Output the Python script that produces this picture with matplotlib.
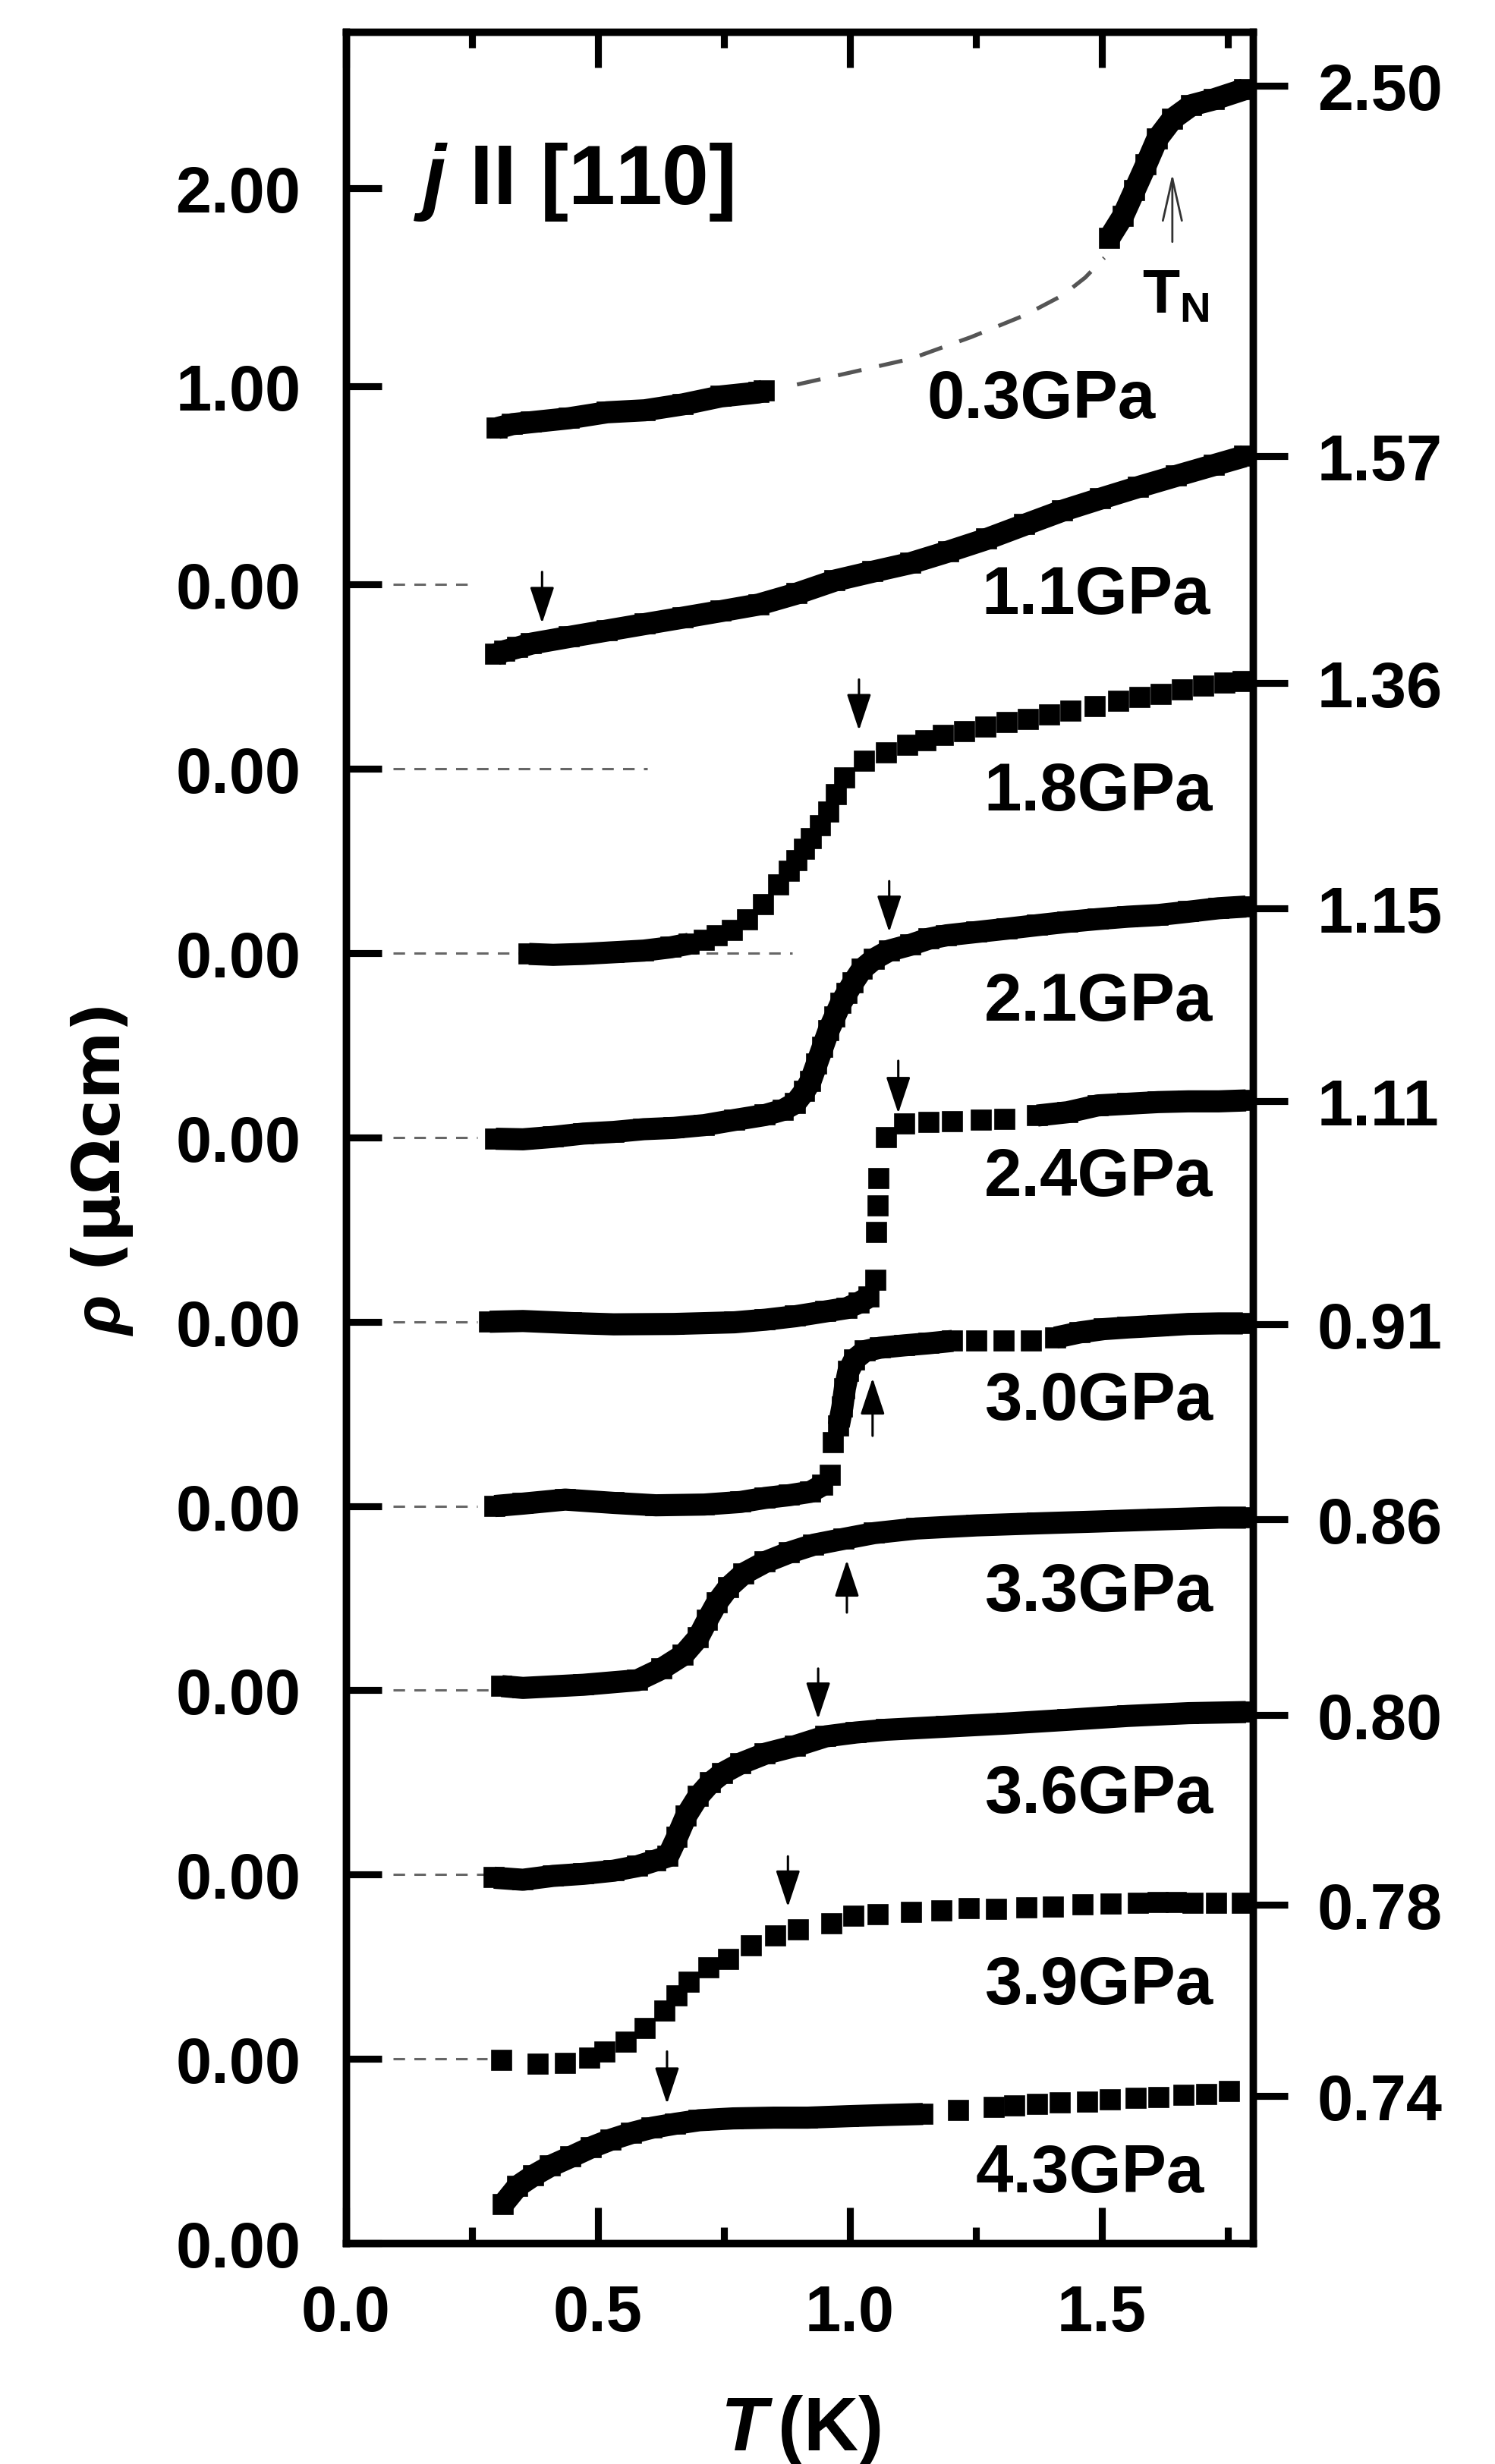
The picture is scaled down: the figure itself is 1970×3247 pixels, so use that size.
import matplotlib
matplotlib.use('Agg')
import matplotlib.pyplot as plt
import numpy as np

plt.rcParams['font.family'] = ['Liberation Sans', 'DejaVu Sans']
plt.rcParams['font.weight'] = 'bold'
plt.rcParams['mathtext.fontset'] = 'custom'
plt.rcParams['mathtext.rm'] = 'Liberation Sans:bold'
plt.rcParams['mathtext.it'] = 'Liberation Sans:italic:bold'
plt.rcParams['mathtext.bf'] = 'Liberation Sans:bold'

# ---- data (T in K, curves in stacked panel units above their offset) ----
# 0.3 GPa is drawn in uOhm cm with its own scale
s03 = 1.075
T03a = [0.300, 0.330, 0.368, 0.443, 0.518, 0.593, 0.669, 0.744, 0.819, 0.830]
r03a = [0.79, 0.81, 0.82, 0.84, 0.87, 0.88, 0.91, 0.95, 0.97, 0.98]
T03b = [1.515, 1.542, 1.565, 1.588, 1.610, 1.640, 1.678, 1.723, 1.783]
r03b = [1.75, 1.86, 1.99, 2.12, 2.25, 2.35, 2.42, 2.45, 2.50]
T03d = [0.895, 1.000, 1.121, 1.241, 1.347, 1.422, 1.467, 1.505]
r03d = [1.01, 1.07, 1.14, 1.25, 1.36, 1.46, 1.55, 1.65]

T11 = [0.297, 0.315, 0.340, 0.368, 0.443, 0.518, 0.593, 0.669, 0.744, 0.819, 0.895, 0.970,
       1.045, 1.121, 1.196, 1.271, 1.347, 1.422, 1.497, 1.573, 1.648, 1.723, 1.783]
r11 = [0.621, 0.640, 0.658, 0.680, 0.716, 0.751, 0.786, 0.821, 0.856, 0.892, 0.952, 1.022,
       1.070, 1.117, 1.180, 1.247, 1.325, 1.401, 1.466, 1.530, 1.590, 1.649, 1.696]

T18 = [0.363, 0.411, 0.471, 0.531, 0.591, 0.645, 0.681, 0.711, 0.736, 0.766, 0.796, 0.828,
       0.858, 0.880, 0.894, 0.910, 0.924, 0.942, 0.958, 0.973, 0.990, 1.028, 1.072, 1.114,
       1.150, 1.186, 1.228, 1.270, 1.312, 1.354, 1.396, 1.438, 1.486, 1.534, 1.576, 1.618,
       1.660, 1.702, 1.744, 1.780]
r18 = [-0.004, -0.009, -0.004, 0.005, 0.014, 0.032, 0.051, 0.070, 0.097, 0.124, 0.180, 0.262,
       0.369, 0.446, 0.501, 0.565, 0.621, 0.694, 0.768, 0.860, 0.952, 1.044, 1.089, 1.127,
       1.154, 1.182, 1.204, 1.227, 1.251, 1.270, 1.292, 1.314, 1.338, 1.366, 1.388, 1.406,
       1.430, 1.448, 1.468, 1.476]

T21 = [0.297, 0.351, 0.411, 0.471, 0.531, 0.591, 0.651, 0.711, 0.771, 0.832, 0.868, 0.892,
       0.910, 0.922, 0.934, 0.946, 0.958, 0.970, 0.982, 0.994, 1.006, 1.024, 1.048, 1.078,
       1.120, 1.156, 1.192, 1.252, 1.312, 1.372, 1.432, 1.492, 1.552, 1.612, 1.672, 1.732, 1.786]
r21 = [-0.007, -0.010, 0.003, 0.021, 0.030, 0.045, 0.052, 0.067, 0.095, 0.122, 0.150, 0.187,
       0.251, 0.306, 0.398, 0.490, 0.582, 0.655, 0.729, 0.784, 0.839, 0.913, 0.968, 1.014,
       1.045, 1.078, 1.097, 1.115, 1.133, 1.152, 1.170, 1.185, 1.198, 1.207, 1.225, 1.244, 1.253]

T24 = [0.285, 0.351, 0.447, 0.531, 0.651, 0.771, 0.832, 0.892, 0.952, 0.994, 1.018, 1.038,
       1.051, 1.053, 1.056, 1.058, 1.072, 1.108, 1.156, 1.204, 1.260, 1.308, 1.372, 1.432,
       1.492, 1.552, 1.612, 1.672, 1.732, 1.786]
r24 = [0.000, 0.004, -0.007, -0.014, -0.012, -0.003, 0.011, 0.030, 0.056, 0.074, 0.103, 0.135,
       0.227, 0.484, 0.631, 0.778, 0.999, 1.072, 1.082, 1.085, 1.096, 1.100, 1.119, 1.137,
       1.174, 1.183, 1.192, 1.196, 1.196, 1.201]

T30 = [0.295, 0.351, 0.435, 0.531, 0.615, 0.711, 0.783, 0.832, 0.880, 0.922, 0.946, 0.961,
       0.967, 0.978, 0.985, 0.990, 0.997, 1.009, 1.030, 1.060, 1.108, 1.156, 1.204, 1.252,
       1.306, 1.360, 1.408, 1.456, 1.504, 1.552, 1.612, 1.672, 1.732, 1.780]
r30 = [0.000, 0.013, 0.035, 0.017, 0.004, 0.008, 0.022, 0.044, 0.059, 0.077, 0.114, 0.166,
       0.344, 0.436, 0.537, 0.638, 0.730, 0.795, 0.841, 0.859, 0.872, 0.883, 0.896, 0.896,
       0.896, 0.896, 0.914, 0.942, 0.960, 0.969, 0.978, 0.988, 0.991, 0.991]

T33 = [0.309, 0.351, 0.471, 0.579, 0.627, 0.669, 0.699, 0.717, 0.736, 0.759, 0.789, 0.832,
       0.880, 0.928, 0.988, 1.048, 1.132, 1.252, 1.372, 1.492, 1.612, 1.732, 1.786]
r33 = [0.023, 0.013, 0.030, 0.055, 0.118, 0.191, 0.286, 0.381, 0.475, 0.559, 0.633, 0.696,
       0.748, 0.790, 0.822, 0.853, 0.878, 0.895, 0.906, 0.916, 0.927, 0.937, 0.937]

T36 = [0.294, 0.351, 0.411, 0.471, 0.531, 0.579, 0.615, 0.639, 0.657, 0.675, 0.699, 0.723,
       0.747, 0.783, 0.832, 0.892, 0.952, 1.012, 1.072, 1.192, 1.312, 1.432, 1.552, 1.672, 1.786]
r36 = [-0.017, -0.028, -0.007, 0.004, 0.021, 0.046, 0.077, 0.099, 0.204, 0.319, 0.424, 0.498,
       0.550, 0.603, 0.656, 0.698, 0.750, 0.771, 0.786, 0.803, 0.820, 0.840, 0.861, 0.876, 0.882]

T39 = [0.309, 0.381, 0.435, 0.483, 0.513, 0.555, 0.594, 0.633, 0.657, 0.681, 0.720, 0.759,
       0.804, 0.853, 0.898, 0.964, 1.008, 1.056, 1.122, 1.182, 1.236, 1.291, 1.351, 1.404,
       1.463, 1.518, 1.573, 1.612, 1.648, 1.681, 1.728, 1.779]
r39 = [-0.009, -0.030, -0.026, 0.006, 0.037, 0.090, 0.164, 0.258, 0.342, 0.416, 0.496, 0.542,
       0.615, 0.668, 0.699, 0.735, 0.773, 0.783, 0.794, 0.804, 0.815, 0.813, 0.820, 0.824,
       0.838, 0.840, 0.843, 0.848, 0.848, 0.846, 0.846, 0.846]

T43 = [0.311, 0.341, 0.372, 0.405, 0.446, 0.486, 0.526, 0.567, 0.607, 0.654, 0.701, 0.768,
       0.849, 0.916, 0.997, 1.078, 1.145, 1.215, 1.286, 1.327, 1.372, 1.417, 1.471, 1.517,
       1.568, 1.613, 1.663, 1.708, 1.753]
r43 = [0.209, 0.310, 0.367, 0.418, 0.468, 0.519, 0.562, 0.598, 0.626, 0.648, 0.667, 0.677,
       0.681, 0.681, 0.689, 0.696, 0.701, 0.720, 0.737, 0.747, 0.754, 0.761, 0.767, 0.777,
       0.788, 0.790, 0.804, 0.809, 0.822]

pressures = ['0.3GPa', '1.1GPa', '1.8GPa', '2.1GPa', '2.4GPa', '3.0GPa', '3.3GPa', '3.6GPa', '3.9GPa', '4.3GPa']
label_T = [1.606, 1.716, 1.720, 1.720, 1.720, 1.720, 1.720, 1.720, 1.720, 1.703]
label_y = [9.909, 8.845, 7.777, 6.637, 5.687, 4.473, 3.433, 2.340, 1.300, 0.281]

# left tick labels (stack zeros + 0.3 GPa scale) and right-end values
left_pos = [0, 1, 2, 3, 4, 5, 6, 7, 8, 9, 9 + s03 * 1.0, 9 + s03 * 2.0]
left_lab = ['0.00'] * 10 + ['1.00', '2.00']
right_pos = [11.706, 9.696, 8.468, 7.244, 6.196, 4.988, 3.927, 2.866, 1.836, 0.799]
right_lab = ['2.50', '1.57', '1.36', '1.15', '1.11', '0.91', '0.86', '0.80', '0.78', '0.74']

# dashed zero lines
zero_lvl = [9, 8, 7, 6, 5, 4, 3, 2, 1]
zero_end = [0.243, 0.598, 0.886, 0.26, 0.26, 0.26, 0.29, 0.28, 0.28]

# arrows: T, tail, tip
arrows = [(0.389, 9.069, 8.790), (1.018, 8.485, 8.209), (1.078, 7.391, 7.115),
          (1.096, 6.416, 6.131), (1.045, 4.381, 4.694), (0.994, 3.422, 3.706),
          (0.937, 3.118, 2.845), (0.877, 2.099, 1.825), (0.637, 1.040, 0.756)]

# ---- figure ----
fig = plt.figure(figsize=(9.85, 16.24), dpi=200)
ax = fig.add_axes([0.2315, 0.0896, 0.6066, 0.8972])
ax.set_xlim(0, 1.8)
ax.set_ylim(0, 12)

MS = 9.6
LW = 10.5


def draw(T, r, off, gaps=(), dots_only=False):
    T = np.asarray(T, float)
    y = np.asarray(r, float) + off
    yl = y.copy()
    for a, b in gaps:
        yl[(T > a) & (T < b)] = np.nan
    if not dots_only:
        ax.plot(T, yl, '-', color='k', lw=LW, solid_capstyle='butt',
                solid_joinstyle='round', zorder=3)
    ax.plot(T, y, 's', color='k', ms=MS, mew=0.6, zorder=3)


for lv, e in zip(zero_lvl, zero_end):
    ax.plot([0.093, e], [lv, lv], color='#666666', lw=1.1, dashes=(5, 4), zorder=2)

ax.plot(T03d, 9 + s03 * np.asarray(r03d), color='#555555', lw=1.9, dashes=(6, 4.5), zorder=2)
draw(T03a, s03 * np.asarray(r03a), 9)
draw(T03b, s03 * np.asarray(r03b), 9)
draw(T11, r11, 8)
draw(T18, r18, 7, gaps=[(0.70, 1.9)])
draw(T21, r21, 6)
draw(T24, r24, 5, gaps=[(1.04, 1.34)])
draw(T30, r30, 4, gaps=[(0.955, 0.975), (1.23, 1.38)])
draw(T33, r33, 3)
draw(T36, r36, 2)
draw(T39, r39, 1, dots_only=True)
draw(T43, r43, 0, gaps=[(1.19, 1.9)])

for t, tail, tip in arrows:
    ax.annotate('', xy=(t, tip), xytext=(t, tail),
                arrowprops=dict(arrowstyle='-|>,head_length=1.5,head_width=0.5',
                                lw=1.1, color='k', shrinkA=0, shrinkB=0,
                                mutation_scale=10), zorder=4)
ax.annotate('', xy=(1.640, 11.23), xytext=(1.640, 10.86),
            arrowprops=dict(arrowstyle='->,head_length=2.0,head_width=0.45',
                            lw=1.0, color='#333333', shrinkA=0, shrinkB=0,
                            mutation_scale=10), zorder=4)
ax.text(1.580, 10.48, r'T$_\mathrm{N}$', fontsize=29, ha='left', va='baseline')

for p, tx, ty in zip(pressures, label_T, label_y):
    ax.text(tx, ty, p, fontsize=32, ha='right', va='baseline')

ax.text(0.134, 11.067, r'$j$ II [110]', fontsize=40, ha='left', va='baseline')

# ticks
ax.set_xticks([0, 0.5, 1.0, 1.5])
ax.set_xticklabels(['0.0', '0.5', '1.0', '1.5'])
ax.set_xticks([0.25, 0.75, 1.25, 1.75], minor=True)
ax.tick_params(axis='x', which='both', direction='in', top=True, bottom=True,
               width=3.3, pad=19, labelsize=30.5)
ax.tick_params(axis='x', which='major', length=17)
ax.tick_params(axis='x', which='minor', length=7.5)
ax.set_yticks(left_pos)
ax.set_yticklabels(left_lab)
ax.tick_params(axis='y', direction='in', length=17, width=3.3, pad=21.5,
               labelsize=30.5, right=False)

ax2 = ax.twinx()
ax2.set_ylim(0, 12)
ax2.set_yticks(right_pos)
ax2.set_yticklabels(right_lab)
ax2.tick_params(axis='y', direction='out', length=16.5, width=3.3, pad=14, labelsize=30.5)

for a in (ax, ax2):
    for s in a.spines.values():
        s.set_linewidth(3.4)

fig.text(0.0685, 0.525, r'$\rho$ (μΩcm)', rotation=90, fontsize=31,
         ha='center', va='center', family=['DejaVu Sans'])
fig.text(0.5355, 0.00585, r'$T\,$(K)', fontsize=36, ha='center', va='baseline')

fig.savefig('out.png', dpi=200)
